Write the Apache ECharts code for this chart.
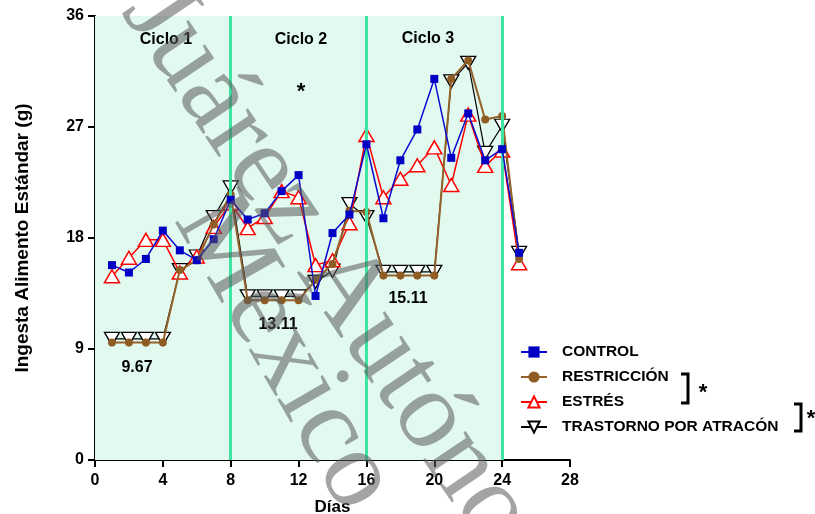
<!DOCTYPE html>
<html>
<head>
<meta charset="utf-8">
<script src="https://cdn.jsdelivr.net/npm/echarts@6/dist/echarts.min.js"></script>
<style>
  html, body { margin: 0; padding: 0; background: #ffffff; }
  #chart { width: 815px; height: 514px; }
</style>
</head>
<body>
<div id="chart"></div>
<script>
// Daily standard-food intake (g) per group, days 1-25
const dias = [1, 2, 3, 4, 5, 6, 7, 8, 9, 10, 11, 12, 13, 14, 15, 16, 17, 18, 19, 20, 21, 22, 23, 24, 25];
const control = [15.8, 15.2, 16.3, 18.6, 17.0, 16.2, 17.9, 21.1, 19.5, 20.0, 21.8, 23.1, 13.3, 18.4, 19.9, 25.6, 19.6, 24.3, 26.8, 30.9, 24.5, 28.1, 24.3, 25.2, 16.8];
const restriccion = [9.52, 9.52, 9.52, 9.52, 15.4, 16.2, 19.1, 21.5, 12.95, 12.95, 12.95, 12.95, 14.6, 15.9, 20.2, 20.1, 14.96, 14.96, 14.96, 14.96, 30.9, 32.4, 27.6, 27.9, 16.3];
const estres = [14.9, 16.4, 17.85, 17.85, 15.2, 16.5, 18.9, 20.8, 18.8, 19.7, 21.8, 21.3, 15.8, 16.2, 19.2, 26.35, 21.3, 22.8, 23.9, 25.35, 22.3, 28.0, 23.85, 25.1, 15.95];
const trastorno = [9.82, 9.82, 9.82, 9.82, 15.4, 16.5, 19.7, 22.1, 13.27, 13.27, 13.27, 13.27, 14.45, 15.35, 20.75, 19.7, 15.26, 15.26, 15.26, 15.26, 30.7, 32.2, 24.9, 27.1, 16.8];

// Axis ticks and cycle boundaries
const xTicks = [0, 4, 8, 12, 16, 20, 24, 28];
const yTicks = [0, 9, 18, 27, 36];
const cicloLimites = [8, 16, 24];
const ciclos = ['Ciclo 1', 'Ciclo 2', 'Ciclo 3'];

// Restricted days of each cycle (1-based), used for the mean labels
const diasRestringidos = [[1, 2, 3, 4], [9, 10, 11, 12], [17, 18, 19, 20]];

const nombres = ['CONTROL', 'RESTRICCIÓN', 'ESTRÉS', 'TRASTORNO POR ATRACÓN'];

function pares(vals) { return dias.map((d, i) => [d, vals[i]]); }
function mediaRestringida(grupo) {
  let s = 0, n = 0;
  grupo.forEach(d => { s += restriccion[d - 1] + trastorno[d - 1]; n += 2; });
  return (s / n).toFixed(2);
}
const medias = diasRestringidos.map(mediaRestringida);

const FONT = '"Liberation Sans", Arial, sans-serif';
const chart = echarts.init(document.getElementById('chart'), null, { renderer: 'canvas' });

const ejeBase = {
  axisLine: { show: true, onZero: false, lineStyle: { color: '#000', width: 2 } },
  axisTick: { show: true, length: 7, lineStyle: { color: '#000', width: 2 } },
  splitLine: { show: false },
  axisLabel: { color: '#000', fontFamily: FONT, fontWeight: 'bold', fontSize: 16 }
};

const texto = (t, x, y, size, extra) => Object.assign({
  type: 'text', x: x, y: y, z: 50, silent: true,
  style: Object.assign({ text: t, fill: '#000', font: 'bold ' + size + 'px ' + FONT,
    textAlign: 'center', textVerticalAlign: 'middle' }, extra || {})
});

const bracket = (x, y1, y2) => ({
  type: 'polyline', z: 50, silent: true,
  shape: { points: [[x - 7, y1], [x, y1], [x, y2], [x - 7, y2]] },
  style: { stroke: '#000', lineWidth: 3, fill: null }
});

// Diagonal watermark text drawn over the plot
const marcaAgua = (t, x, y, grados) => ({
  type: 'text', x: x, y: y, rotation: -grados * Math.PI / 180, z: 200, silent: true,
  style: { text: t, fill: 'rgba(90,90,90,0.55)', font: '112px "Liberation Serif", "Times New Roman", serif',
    textAlign: 'left', textVerticalAlign: 'middle' }
});

const option = {
  animation: false,
  backgroundColor: '#ffffff',
  textStyle: { fontFamily: FONT },
  grid: { left: 95, right: 245, top: 16, bottom: 54, containLabel: false, outerBoundsMode: 'none' },
  xAxis: Object.assign({}, ejeBase, {
    type: 'value', min: xTicks[0], max: xTicks[xTicks.length - 1], interval: xTicks[1] - xTicks[0],
    name: 'Días', nameLocation: 'middle', nameGap: 39,
    nameTextStyle: { color: '#000', fontFamily: FONT, fontWeight: 'bold', fontSize: 17 },
    axisLabel: Object.assign({}, ejeBase.axisLabel, { margin: 13 })
  }),
  yAxis: Object.assign({}, ejeBase, {
    type: 'value', min: yTicks[0], max: yTicks[yTicks.length - 1], interval: yTicks[1] - yTicks[0],
    name: 'Ingesta Alimento Estándar (g)', nameLocation: 'middle', nameGap: 63,
    nameTextStyle: { color: '#000', fontFamily: FONT, fontWeight: 'bold', fontSize: 19 },
    axisLabel: Object.assign({}, ejeBase.axisLabel, { margin: 11 })
  }),
  legend: {
    data: nombres,
    orient: 'vertical', left: 520, top: 344, padding: 0,
    itemWidth: 26, itemHeight: 14, itemGap: 9,
    textStyle: { color: '#000', fontFamily: FONT, fontWeight: 'bold', fontSize: 15.5, lineHeight: 16, padding: [0, 0, 0, 10] },
    selectedMode: false
  },
  series: [
    {
      name: 'fondo', type: 'line', data: [], silent: true, z: 1,
      markArea: {
        silent: true,
        itemStyle: { color: '#e1f9ef' },
        data: [[{ xAxis: 0 }, { xAxis: cicloLimites[cicloLimites.length - 1] }]]
      },
      markLine: {
        silent: true, symbol: 'none',
        label: { show: false },
        lineStyle: { color: '#3fe4a5', width: 3, type: 'solid' },
        data: cicloLimites.map(v => ({ xAxis: v }))
      }
    },
    {
      name: nombres[3], type: 'line', data: pares(trastorno), z: 2,
      symbol: 'triangle', symbolRotate: 180, symbolSize: [15, 13], showAllSymbol: true,
      lineStyle: { color: '#000000', width: 1.2 },
      itemStyle: { color: '#ffffff', borderColor: '#000000', borderWidth: 1.3 }
    },
    {
      name: nombres[2], type: 'line', data: pares(estres), z: 3,
      symbol: 'triangle', symbolSize: [15, 13], showAllSymbol: true,
      lineStyle: { color: '#ff0000', width: 1.5 },
      itemStyle: { color: '#ffffff', borderColor: '#ff0000', borderWidth: 1.5 }
    },
    {
      name: nombres[1], type: 'line', data: pares(restriccion), z: 4,
      symbol: 'circle', symbolSize: 8, showAllSymbol: true,
      lineStyle: { color: '#94622a', width: 2 },
      itemStyle: { color: '#8f5d24', borderWidth: 0 }
    },
    {
      name: nombres[0], type: 'line', data: pares(control), z: 5,
      symbol: 'rect', symbolSize: 8, showAllSymbol: true,
      lineStyle: { color: '#0a0ad0', width: 1.5 },
      itemStyle: { color: '#0000c4', borderWidth: 0 }
    }
  ],
  graphic: [
    texto(ciclos[0], 166, 40, 16),
    texto(ciclos[1], 301, 40, 16),
    texto(ciclos[2], 428, 39, 16),
    texto('*', 301, 92, 22),
    texto(medias[0], 137, 368, 16),
    texto(medias[1], 278, 325, 16),
    texto(medias[2], 408, 299, 16),
    bracket(688, 374, 403),
    texto('*', 703, 393, 22),
    bracket(801, 404, 431),
    texto('*', 811, 419, 22),
    marcaAgua('Juárez Autónoma', 145, -5, 56),
    marcaAgua('México', 199, 205, 60)
  ]
};

chart.setOption(option);
</script>
</body>
</html>
